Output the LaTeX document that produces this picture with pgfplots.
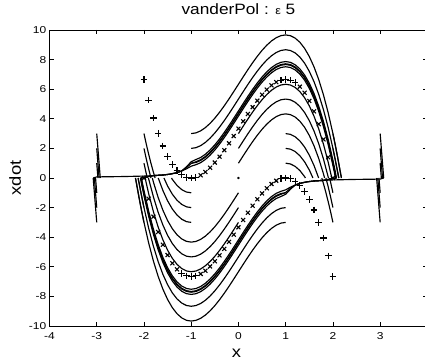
\documentclass[border=0pt]{standalone}
\usepackage{fontspec}
\setmainfont{Liberation Sans}
\newfontfamily\tickfont{Liberation Sans}[FakeStretch=1.2]
\newfontfamily\labfont{Liberation Sans}[FakeStretch=1.15]
\usepackage{pgfplots}
\pgfplotsset{compat=1.18}
\begin{document}
\begin{tikzpicture}
\path[use as bounding box] (0pt,0pt) rectangle (425pt,361pt);
\clip (0pt,0pt) rectangle (425pt,361pt);
\begin{axis}[
  at={(49.5pt,35pt)}, anchor=south west,
  scale only axis, width=377.9pt, height=296pt,
  xmin=-4, xmax=4, ymin=-10, ymax=10,
  xtick={-4,-3,...,3}, ytick={-10,-8,...,10},
  tick align=inside, major tick length=4.5pt,
  axis line style={line width=0.7pt},
  every tick/.style={black, line width=0.6pt},
  /pgf/number format/assume math mode=true,
  tick label style={font=\tickfont\fontsize{10}{11}\selectfont, inner sep=0pt},
  yticklabel style={xshift=-3pt},
  xticklabel style={yshift=-6pt},
  title={vanderPol : {\fontsize{11}{11}\selectfont ε} 5},
  title style={font=\labfont\fontsize{15}{16}\selectfont, at={(axis description cs:0.5,1)}, anchor=base, yshift=9pt, inner sep=0pt},
  xlabel={x},
  xlabel style={font=\labfont\fontsize{16}{17}\selectfont, at={(axis description cs:0.495,0)}, anchor=base, yshift=-31.5pt, inner sep=0pt},
  ylabel={xdot},
  ylabel style={font=\labfont\fontsize{16}{17}\selectfont, at={(axis description cs:-0.0755,0.5)}, anchor=base, inner sep=0pt},
  cycle list={{black, solid, mark=none}},
  every axis plot/.append style={line width=1.15pt, line join=round},
]
% ---- limit-cycle band (three close loops) ----
\addplot coordinates {(-2.054,0) (-1.8,0.16) (-1.6,0.2) (-1.45,0.26) (-1.3,0.36) (-1.2,0.48) (-1.1,0.62) (-1.0,0.8) (-0.9,0.898) (-0.8,1.036) (-0.7,1.255) (-0.6,1.543) (-0.5,1.891) (-0.4,2.29) (-0.3,2.728) (-0.2,3.196) (-0.1,3.685) (0,4.183) (0.1,4.681) (0.2,5.17) (0.3,5.638) (0.4,6.076) (0.5,6.475) (0.6,6.823) (0.7,7.111) (0.8,7.33) (0.9,7.468) (1.0,7.517) (1.1,7.465) (1.2,7.303) (1.3,7.021) (1.4,6.61) (1.5,6.058) (1.6,5.356) (1.7,4.495) (1.8,3.463) (1.9,2.251) (2.0,0.85) (2.03,0.391) (2.054,0) (1.8,-0.16) (1.6,-0.2) (1.45,-0.26) (1.3,-0.36) (1.2,-0.48) (1.1,-0.62) (1.0,-0.8) (0.9,-0.898) (0.8,-1.036) (0.7,-1.255) (0.6,-1.543) (0.5,-1.891) (0.4,-2.29) (0.3,-2.728) (0.2,-3.196) (0.1,-3.685) (0,-4.183) (-0.1,-4.681) (-0.2,-5.17) (-0.3,-5.638) (-0.4,-6.076) (-0.5,-6.475) (-0.6,-6.823) (-0.7,-7.111) (-0.8,-7.33) (-0.9,-7.468) (-1.0,-7.517) (-1.1,-7.465) (-1.2,-7.303) (-1.3,-7.021) (-1.4,-6.61) (-1.5,-6.058) (-1.6,-5.356) (-1.7,-4.495) (-1.8,-3.463) (-1.9,-2.251) (-2.0,-0.85) (-2.03,-0.391) (-2.054,0)};
\addplot coordinates {(-2.068,0) (-1.8,0.16) (-1.6,0.2) (-1.45,0.26) (-1.3,0.36) (-1.2,0.48) (-1.1,0.7) (-1.0,0.98) (-0.9,1.098) (-0.8,1.236) (-0.7,1.455) (-0.6,1.743) (-0.5,2.091) (-0.4,2.49) (-0.3,2.928) (-0.2,3.396) (-0.1,3.885) (0,4.383) (0.1,4.881) (0.2,5.37) (0.3,5.838) (0.4,6.276) (0.5,6.675) (0.6,7.023) (0.7,7.311) (0.8,7.53) (0.9,7.668) (1.0,7.717) (1.1,7.665) (1.2,7.503) (1.3,7.221) (1.4,6.81) (1.5,6.258) (1.6,5.556) (1.7,4.695) (1.8,3.663) (1.9,2.451) (2.0,1.05) (2.03,0.591) (2.05,0.275) (2.068,0) (1.8,-0.16) (1.6,-0.2) (1.45,-0.26) (1.3,-0.36) (1.2,-0.48) (1.1,-0.7) (1.0,-0.98) (0.9,-1.098) (0.8,-1.236) (0.7,-1.455) (0.6,-1.743) (0.5,-2.091) (0.4,-2.49) (0.3,-2.928) (0.2,-3.396) (0.1,-3.885) (0,-4.383) (-0.1,-4.881) (-0.2,-5.37) (-0.3,-5.838) (-0.4,-6.276) (-0.5,-6.675) (-0.6,-7.023) (-0.7,-7.311) (-0.8,-7.53) (-0.9,-7.668) (-1.0,-7.717) (-1.1,-7.665) (-1.2,-7.503) (-1.3,-7.221) (-1.4,-6.81) (-1.5,-6.258) (-1.6,-5.556) (-1.7,-4.695) (-1.8,-3.663) (-1.9,-2.451) (-2.0,-1.05) (-2.03,-0.591) (-2.05,-0.275) (-2.068,0)};
\addplot coordinates {(-2.075,0) (-1.8,0.16) (-1.6,0.2) (-1.45,0.26) (-1.3,0.36) (-1.2,0.48) (-1.1,0.76) (-1.0,1.1) (-0.9,1.248) (-0.8,1.386) (-0.7,1.605) (-0.6,1.893) (-0.5,2.241) (-0.4,2.64) (-0.3,3.078) (-0.2,3.546) (-0.1,4.035) (0,4.533) (0.1,5.031) (0.2,5.52) (0.3,5.988) (0.4,6.426) (0.5,6.825) (0.6,7.173) (0.7,7.461) (0.8,7.68) (0.9,7.818) (1.0,7.867) (1.1,7.815) (1.2,7.653) (1.3,7.371) (1.4,6.96) (1.5,6.408) (1.6,5.706) (1.7,4.845) (1.8,3.813) (1.9,2.601) (2.0,1.2) (2.05,0.425) (2.075,0) (1.8,-0.16) (1.6,-0.2) (1.45,-0.26) (1.3,-0.36) (1.2,-0.48) (1.1,-0.76) (1.0,-1.1) (0.9,-1.248) (0.8,-1.386) (0.7,-1.605) (0.6,-1.893) (0.5,-2.241) (0.4,-2.64) (0.3,-3.078) (0.2,-3.546) (0.1,-4.035) (0,-4.533) (-0.1,-5.031) (-0.2,-5.52) (-0.3,-5.988) (-0.4,-6.426) (-0.5,-6.825) (-0.6,-7.173) (-0.7,-7.461) (-0.8,-7.68) (-0.9,-7.818) (-1.0,-7.867) (-1.1,-7.815) (-1.2,-7.653) (-1.3,-7.371) (-1.4,-6.96) (-1.5,-6.408) (-1.6,-5.706) (-1.7,-4.845) (-1.8,-3.813) (-1.9,-2.601) (-2.0,-1.2) (-2.05,-0.425) (-2.075,0)};
% ---- slow drift lines ----
\addplot coordinates {(-3.075,0) (-3.0,0.075) (-2.5,0.095) (-2.2,0.115) (-2.0,0.13) (-1.8,0.16) (-1.6,0.2)};
\addplot coordinates {(3.075,0) (3.0,-0.075) (2.5,-0.095) (2.2,-0.115) (2.0,-0.13) (1.8,-0.16) (1.6,-0.2)};
% ---- transients from x0=-1 (up) and x0=1 (down) ----
\addplot coordinates {(-1,3) (-0.9,3.048) (-0.8,3.186) (-0.7,3.405) (-0.6,3.693) (-0.5,4.041) (-0.4,4.44) (-0.3,4.878) (-0.2,5.346) (-0.1,5.835) (0,6.333) (0.1,6.831) (0.2,7.32) (0.3,7.788) (0.4,8.226) (0.5,8.625) (0.6,8.973) (0.7,9.261) (0.8,9.48) (0.9,9.618) (1,9.667) (1.1,9.615) (1.2,9.453) (1.3,9.171) (1.4,8.76) (1.5,8.208) (1.6,7.506) (1.7,6.645) (1.8,5.613) (1.9,4.401) (2,3) (2.05,2.225) (2.1,1.398) (2.15,0.52) (2.18,0)};
\addplot coordinates {(1,-3) (0.9,-3.048) (0.8,-3.186) (0.7,-3.405) (0.6,-3.693) (0.5,-4.041) (0.4,-4.44) (0.3,-4.878) (0.2,-5.346) (0.1,-5.835) (0,-6.333) (-0.1,-6.831) (-0.2,-7.32) (-0.3,-7.788) (-0.4,-8.226) (-0.5,-8.625) (-0.6,-8.973) (-0.7,-9.261) (-0.8,-9.48) (-0.9,-9.618) (-1,-9.667) (-1.1,-9.615) (-1.2,-9.453) (-1.3,-9.171) (-1.4,-8.76) (-1.5,-8.208) (-1.6,-7.506) (-1.7,-6.645) (-1.8,-5.613) (-1.9,-4.401) (-2,-3) (-2.05,-2.225) (-2.1,-1.398) (-2.15,-0.52) (-2.18,0)};
\addplot coordinates {(-1,2) (-0.9,2.048) (-0.8,2.186) (-0.7,2.405) (-0.6,2.693) (-0.5,3.041) (-0.4,3.44) (-0.3,3.878) (-0.2,4.346) (-0.1,4.835) (0,5.333) (0.1,5.831) (0.2,6.32) (0.3,6.788) (0.4,7.226) (0.5,7.625) (0.6,7.973) (0.7,8.261) (0.8,8.48) (0.9,8.618) (1,8.667) (1.1,8.615) (1.2,8.453) (1.3,8.171) (1.4,7.76) (1.5,7.208) (1.6,6.506) (1.7,5.645) (1.8,4.613) (1.9,3.401) (2,2) (2.05,1.225) (2.1,0.398) (2.125,0)};
\addplot coordinates {(1,-2) (0.9,-2.048) (0.8,-2.186) (0.7,-2.405) (0.6,-2.693) (0.5,-3.041) (0.4,-3.44) (0.3,-3.878) (0.2,-4.346) (0.1,-4.835) (0,-5.333) (-0.1,-5.831) (-0.2,-6.32) (-0.3,-6.788) (-0.4,-7.226) (-0.5,-7.625) (-0.6,-7.973) (-0.7,-8.261) (-0.8,-8.48) (-0.9,-8.618) (-1,-8.667) (-1.1,-8.615) (-1.2,-8.453) (-1.3,-8.171) (-1.4,-7.76) (-1.5,-7.208) (-1.6,-6.506) (-1.7,-5.645) (-1.8,-4.613) (-1.9,-3.401) (-2,-2) (-2.05,-1.225) (-2.1,-0.398) (-2.125,0)};
\addplot coordinates {(-1,1) (-0.9,1.048) (-0.8,1.186) (-0.7,1.405) (-0.6,1.693) (-0.5,2.041) (-0.4,2.44) (-0.3,2.878) (-0.2,3.346) (-0.1,3.835) (0,4.333) (0.1,4.831) (0.2,5.32) (0.3,5.788) (0.4,6.226) (0.5,6.625) (0.6,6.973) (0.7,7.261) (0.8,7.48) (0.9,7.618) (1,7.667) (1.1,7.615) (1.2,7.453) (1.3,7.171) (1.4,6.76) (1.5,6.208) (1.6,5.506) (1.7,4.645) (1.8,3.613) (1.9,2.401) (2,1) (2.03,0.541) (2.05,0.225) (2.065,0)};
\addplot coordinates {(1,-1) (0.9,-1.048) (0.8,-1.186) (0.7,-1.405) (0.6,-1.693) (0.5,-2.041) (0.4,-2.44) (0.3,-2.878) (0.2,-3.346) (0.1,-3.835) (0,-4.333) (-0.1,-4.831) (-0.2,-5.32) (-0.3,-5.788) (-0.4,-6.226) (-0.5,-6.625) (-0.6,-6.973) (-0.7,-7.261) (-0.8,-7.48) (-0.9,-7.618) (-1,-7.667) (-1.1,-7.615) (-1.2,-7.453) (-1.3,-7.171) (-1.4,-6.76) (-1.5,-6.208) (-1.6,-5.506) (-1.7,-4.645) (-1.8,-3.613) (-1.9,-2.401) (-2,-1) (-2.03,-0.541) (-2.05,-0.225) (-2.065,0)};
% ---- transients from x0=0 ----
\addplot coordinates {(0,1) (0.1,1.498) (0.2,1.987) (0.3,2.455) (0.4,2.893) (0.5,3.292) (0.6,3.64) (0.7,3.928) (0.8,4.147) (0.9,4.285) (1,4.333) (1.1,4.282) (1.2,4.12) (1.3,3.838) (1.4,3.427) (1.5,2.875) (1.6,2.173) (1.7,1.312) (1.8,0.28) (1.823,0)};
\addplot coordinates {(0,2) (0.1,2.498) (0.2,2.987) (0.3,3.455) (0.4,3.893) (0.5,4.292) (0.6,4.64) (0.7,4.928) (0.8,5.147) (0.9,5.285) (1,5.333) (1.1,5.282) (1.2,5.12) (1.3,4.838) (1.4,4.427) (1.5,3.875) (1.6,3.173) (1.7,2.312) (1.8,1.28) (1.9,0.068) (1.906,0)};
\addplot coordinates {(0,3) (0.1,3.498) (0.2,3.987) (0.3,4.455) (0.4,4.893) (0.5,5.292) (0.6,5.64) (0.7,5.928) (0.8,6.147) (0.9,6.285) (1,6.333) (1.1,6.282) (1.2,6.12) (1.3,5.838) (1.4,5.427) (1.5,4.875) (1.6,4.173) (1.7,3.312) (1.8,2.28) (1.9,1.068) (1.976,0)};
\addplot coordinates {(0,-1) (-0.1,-1.498) (-0.2,-1.987) (-0.3,-2.455) (-0.4,-2.893) (-0.5,-3.292) (-0.6,-3.64) (-0.7,-3.928) (-0.8,-4.147) (-0.9,-4.285) (-1,-4.333) (-1.1,-4.282) (-1.2,-4.12) (-1.3,-3.838) (-1.4,-3.427) (-1.5,-2.875) (-1.6,-2.173) (-1.7,-1.312) (-1.8,-0.28) (-1.823,0)};
\addplot coordinates {(0,-2) (-0.1,-2.498) (-0.2,-2.987) (-0.3,-3.455) (-0.4,-3.893) (-0.5,-4.292) (-0.6,-4.64) (-0.7,-4.928) (-0.8,-5.147) (-0.9,-5.285) (-1,-5.333) (-1.1,-5.282) (-1.2,-5.12) (-1.3,-4.838) (-1.4,-4.427) (-1.5,-3.875) (-1.6,-3.173) (-1.7,-2.312) (-1.8,-1.28) (-1.9,-0.068) (-1.906,0)};
\addplot coordinates {(0,-3) (-0.1,-3.498) (-0.2,-3.987) (-0.3,-4.455) (-0.4,-4.893) (-0.5,-5.292) (-0.6,-5.64) (-0.7,-5.928) (-0.8,-6.147) (-0.9,-6.285) (-1,-6.333) (-1.1,-6.282) (-1.2,-6.12) (-1.3,-5.838) (-1.4,-5.427) (-1.5,-4.875) (-1.6,-4.173) (-1.7,-3.312) (-1.8,-2.28) (-1.9,-1.068) (-1.976,0)};
% ---- transients from x0=1 (up) and x0=-1 (down) ----
\addplot coordinates {(1,1) (1.1,0.949) (1.2,0.787) (1.3,0.505) (1.4,0.094) (1.417,0)};
\addplot coordinates {(1,2) (1.1,1.949) (1.2,1.787) (1.3,1.505) (1.4,1.094) (1.5,0.542) (1.577,0)};
\addplot coordinates {(1,3) (1.1,2.949) (1.2,2.787) (1.3,2.505) (1.4,2.094) (1.5,1.542) (1.6,0.84) (1.698,0)};
\addplot coordinates {(-1,-1) (-1.1,-0.949) (-1.2,-0.787) (-1.3,-0.505) (-1.4,-0.094) (-1.417,0)};
\addplot coordinates {(-1,-2) (-1.1,-1.949) (-1.2,-1.787) (-1.3,-1.505) (-1.4,-1.094) (-1.5,-0.542) (-1.577,0)};
\addplot coordinates {(-1,-3) (-1.1,-2.949) (-1.2,-2.787) (-1.3,-2.505) (-1.4,-2.094) (-1.5,-1.542) (-1.6,-0.84) (-1.698,0)};
% ---- transients from x0=2 and x0=-2 ----
\addplot coordinates {(2,1) (2.03,0.541) (2.05,0.225) (2.065,0)};
\addplot coordinates {(2,2) (2.05,1.225) (2.1,0.398) (2.125,0)};
\addplot coordinates {(2,3) (2.05,2.225) (2.1,1.398) (2.15,0.52) (2.18,0)};
\addplot coordinates {(2,-1) (1.95,-0.275) (1.93,0)};
\addplot coordinates {(2,-2) (1.95,-1.275) (1.9,-0.599) (1.852,0)};
\addplot coordinates {(2,-3) (1.95,-2.275) (1.9,-1.599) (1.85,-0.97) (1.8,-0.387) (1.765,0)};
\addplot coordinates {(-2,-1) (-2.03,-0.541) (-2.05,-0.225) (-2.065,0)};
\addplot coordinates {(-2,-2) (-2.05,-1.225) (-2.1,-0.398) (-2.125,0)};
\addplot coordinates {(-2,-3) (-2.05,-2.225) (-2.1,-1.398) (-2.15,-0.52) (-2.18,0)};
\addplot coordinates {(-2,1) (-1.95,0.275) (-1.93,0)};
\addplot coordinates {(-2,2) (-1.95,1.275) (-1.9,0.599) (-1.852,0)};
\addplot coordinates {(-2,3) (-1.95,2.275) (-1.9,1.599) (-1.85,0.97) (-1.8,0.387) (-1.765,0)};
% ---- spikes at x0=3 and x0=-3 ----
\addplot coordinates {(3,3) (3.075,0)};
\addplot coordinates {(3,2) (3.05,0)};
\addplot coordinates {(3,1) (3.025,0)};
\addplot coordinates {(3,-1) (2.975,0)};
\addplot coordinates {(3,-2) (2.95,0)};
\addplot coordinates {(3,-3) (2.925,0)};
\addplot coordinates {(-3,-3) (-3.075,0)};
\addplot coordinates {(-3,-2) (-3.05,0)};
\addplot coordinates {(-3,-1) (-3.025,0)};
\addplot coordinates {(-3,1) (-2.975,0)};
\addplot coordinates {(-3,2) (-2.95,0)};
\addplot coordinates {(-3,3) (-2.925,0)};
% ---- equilibrium ----
\addplot[black, only marks, mark=*, mark size=0.7pt] coordinates {(0,0)};
% ---- theoretical fast-jump curves (markers) ----
\addplot[black, only marks, mark=+, mark size=3.3pt, line width=1.1pt] coordinates {(-2,6.667) (-1.9,5.265) (-1.8,4.053) (-1.7,3.021) (-1.6,2.16) (-1.5,1.458) (-1.4,0.906) (-1.3,0.495) (-1.2,0.213) (-1.1,0.051) (-1,0) (-0.9,0.048) (0.9,6.618) (1,6.667) (1.1,6.615) (1.2,6.453)};
\addplot[black, only marks, mark=x, mark size=2.8pt, line width=1.1pt] coordinates {(-0.8,0.186) (-0.7,0.405) (-0.6,0.693) (-0.5,1.041) (-0.4,1.44) (-0.3,1.878) (-0.2,2.346) (-0.1,2.835) (0,3.333) (0.1,3.831) (0.2,4.32) (0.3,4.788) (0.4,5.226) (0.5,5.625) (0.6,5.973) (0.7,6.261) (0.8,6.48) (1.3,6.171) (1.4,5.76) (1.5,5.208) (1.6,4.506) (1.7,3.645) (1.8,2.613) (1.9,1.401) (2,0)};
\addplot[black, only marks, mark=+, mark size=3.3pt, line width=1.1pt] coordinates {(2,-6.667) (1.9,-5.265) (1.8,-4.053) (1.7,-3.021) (1.6,-2.16) (1.5,-1.458) (1.4,-0.906) (1.3,-0.495) (1.2,-0.213) (1.1,-0.051) (1,0) (0.9,-0.048) (-0.9,-6.618) (-1,-6.667) (-1.1,-6.615) (-1.2,-6.453)};
\addplot[black, only marks, mark=x, mark size=2.8pt, line width=1.1pt] coordinates {(0.8,-0.186) (0.7,-0.405) (0.6,-0.693) (0.5,-1.041) (0.4,-1.44) (0.3,-1.878) (0.2,-2.346) (0.1,-2.835) (0,-3.333) (-0.1,-3.831) (-0.2,-4.32) (-0.3,-4.788) (-0.4,-5.226) (-0.5,-5.625) (-0.6,-5.973) (-0.7,-6.261) (-0.8,-6.48) (-1.3,-6.171) (-1.4,-5.76) (-1.5,-5.208) (-1.6,-4.506) (-1.7,-3.645) (-1.8,-2.613) (-1.9,-1.401) (-2,0)};
\end{axis}
\end{tikzpicture}
\end{document}
